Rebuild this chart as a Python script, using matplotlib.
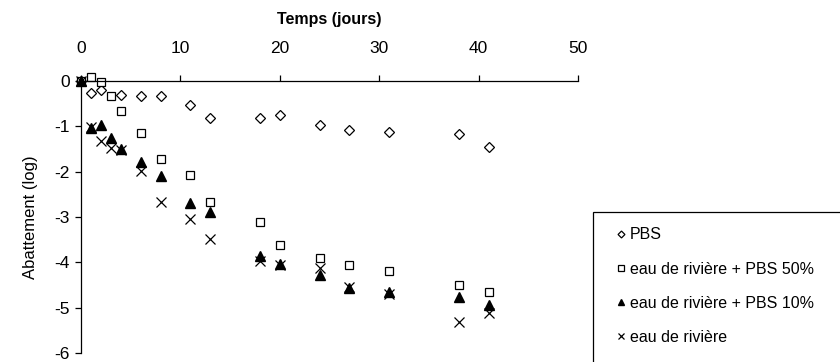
import matplotlib
matplotlib.use("Agg")
import matplotlib.pyplot as plt
from matplotlib.patches import Rectangle

plt.rcParams['font.family'] = ['Liberation Sans', 'DejaVu Sans']
plt.rcParams['axes.unicode_minus'] = False

# temps (jours)
days = [0, 1, 2, 3, 4, 6, 8, 11, 13, 18, 20, 24, 27, 31, 38, 41]
days_pbs = [0, 1, 2, 4, 6, 8, 11, 13, 18, 20, 24, 27, 31, 38, 41]

pbs = [0, -0.26, -0.20, -0.30, -0.34, -0.34, -0.53, -0.81, -0.82, -0.76,
       -0.98, -1.09, -1.12, -1.17, -1.46]
pbs50 = [0, 0.08, -0.02, -0.32, -0.67, -1.14, -1.71, -2.08, -2.68, -3.11,
         -3.62, -3.90, -4.06, -4.19, -4.49, -4.66]
pbs10 = [0, -1.03, -0.98, -1.25, -1.51, -1.79, -2.09, -2.69, -2.90, -3.86,
         -4.03, -4.28, -4.57, -4.65, -4.76, -4.94]
riviere = [0, -1.02, -1.32, -1.48, -1.52, -1.98, -2.68, -3.04, -3.49, -3.98,
           -4.05, -4.12, -4.55, -4.70, -5.32, -5.12]

labels = ['PBS', 'eau de rivière + PBS 50%', 'eau de rivière + PBS 10%', 'eau de rivière']

fig = plt.figure(figsize=(8.4, 3.62), dpi=100)
ax = fig.add_axes([81 / 840, 1 - 353 / 362, (578 - 81) / 840, (353 - 81) / 362])

h1, = ax.plot(days_pbs, pbs, linestyle='none', marker='D', markersize=5,
              markerfacecolor='white', markeredgecolor='black', markeredgewidth=0.9, clip_on=False)
h2, = ax.plot(days, pbs50, linestyle='none', marker='s', markersize=5.5,
              markerfacecolor='white', markeredgecolor='black', markeredgewidth=0.9, clip_on=False)
h3, = ax.plot(days, pbs10, linestyle='none', marker='^', markersize=6.5,
              color='black', clip_on=False)
h4, = ax.plot(days, riviere, linestyle='none', marker='x', markersize=6.5,
              color='black', markeredgewidth=0.9, clip_on=False)

ax.set_xlim(0, 50)
ax.set_ylim(-6, 0)
ax.set_xticks([0, 10, 20, 30, 40, 50])
ax.set_yticks([0, -1, -2, -3, -4, -5, -6])
ax.xaxis.tick_top()
ax.xaxis.set_label_position('top')
ax.spines['bottom'].set_visible(False)
ax.spines['right'].set_visible(False)
ax.spines['top'].set_position(('data', 0))
ax.spines['top'].set_linewidth(0.9)
ax.spines['left'].set_linewidth(0.9)
ax.tick_params(axis='both', direction='out', length=4, width=0.9, labelsize=12.5, pad=4)
ax.tick_params(axis='x', pad=14)
ax.set_xlabel('Temps (jours)', fontsize=11.5, fontweight='bold', labelpad=12)
ax.set_ylabel('Abattement (log)', fontsize=12, labelpad=12)
ax.patch.set_visible(False)

# legend frame running off the image
fig.patches.append(Rectangle((593 / 840, -0.1), 0.5, (362 - 212) / 362 + 0.1, transform=fig.transFigure,
                             facecolor='white', edgecolor='black', linewidth=0.9, zorder=0))
leg = fig.legend([h1, h2, h3, h4], labels, loc='upper left',
                 bbox_to_anchor=(603 / 840, 1 - 213 / 362), frameon=False, fontsize=11.5,
                 handlelength=0.5, handletextpad=0.3, labelspacing=1.2, markerscale=0.7)

fig.savefig('out.png', dpi=100)
